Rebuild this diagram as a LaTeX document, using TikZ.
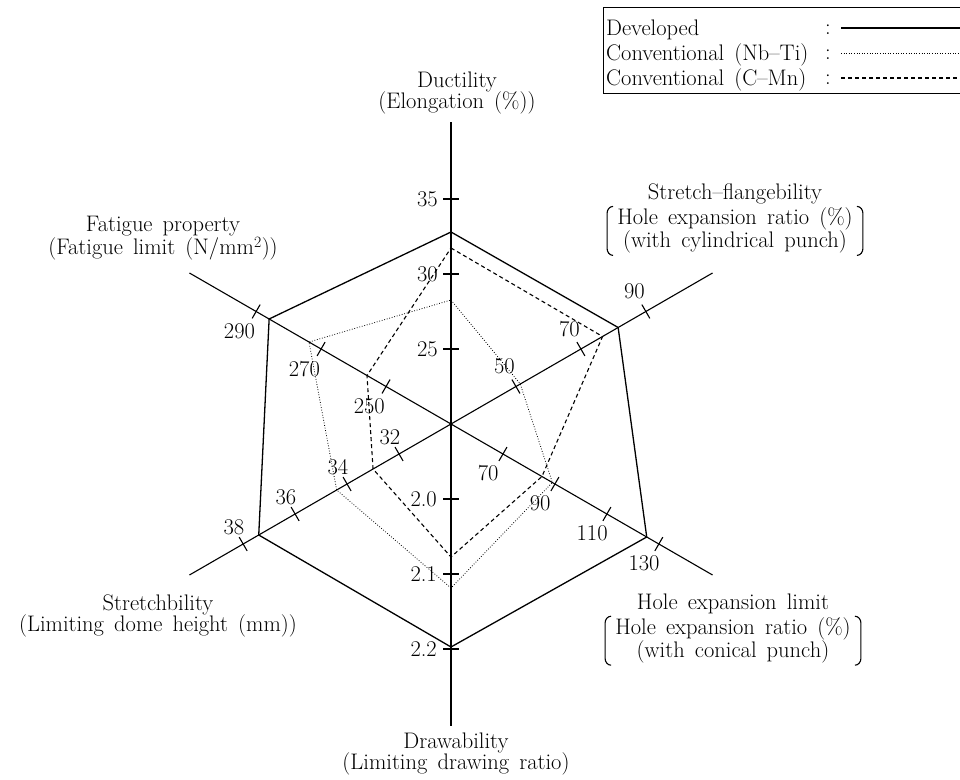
\documentclass[tikz,border=0pt]{standalone}
\usetikzlibrary{positioning}
\newcommand\chartfont{\fontsize{22.5}{21.5}\selectfont\spaceskip=0.45em plus 0.1em minus 0.05em\relax}
\begin{document}
\begin{tikzpicture}[x=1pt,y=1pt,
  font=\chartfont,
  axis/.style={line width=1.1pt},
  tickmark/.style={line width=1.1pt},
  ticklabel/.style={inner sep=0pt},
  title/.style={inner sep=0pt, align=center},
  subtitle/.style={inner ysep=1pt, inner xsep=12pt},
  bracket/.style={line width=1.1pt},
  developed/.style={line width=1.3pt},
  nbti/.style={line width=0.8pt, dash pattern=on 0.8pt off 1.8pt},
  cmn/.style={line width=1.1pt, dash pattern=on 4pt off 3pt}]

\useasboundingbox (-451,-355) rectangle (509,424);

% axes
\coordinate (o) at (0,0);
\foreach \a/\n in {90/duc,30/sfl,-30/hel,-90/drw,210/str,150/fat}
  \draw[axis] (o) -- (\a:302) coordinate (\n end);

% ticks and their values
\foreach \r/\v [count=\i] in {75/25,150/30,225/35} {
  \draw[tickmark] (90:\r) ++(-8,0) -- ++(16,0);
  \node[ticklabel, anchor=east] (duc\i) at ([xshift=-13pt]90:\r) {\v};
}
\foreach \r/\v [count=\i] in {75/2.0,150/2.1,225/2.2} {
  \draw[tickmark] (-90:\r) ++(-8,0) -- ++(16,0);
  \node[ticklabel, anchor=east] (drw\i) at ([xshift=-14pt]-90:\r) {\v};
}
\foreach \r/\v [count=\i] in {75/50,150/70,225/90} {
  \draw[tickmark] (30:\r) ++(120:8) -- ++(-60:16);
  \path (30:\r) ++(120:23) node[ticklabel] (sfl\i) {\v};
}
\foreach \r/\v [count=\i] in {60/70,120/90,180/110,240/130} {
  \draw[tickmark] (-30:\r) ++(60:8) -- ++(240:16);
  \path (-30:\r) ++(232:24) node[ticklabel] (hel\i) {\v};
}
\foreach \r/\v [count=\i] in {60/32,120/34,180/36,240/38} {
  \draw[tickmark] (210:\r) ++(120:8) -- ++(300:16);
  \path (210:\r) ++(119:19) node[ticklabel] (str\i) {\v};
}
\foreach \r/\v [count=\i] in {75/250,150/270,225/290} {
  \draw[tickmark] (150:\r) ++(60:8) -- ++(240:16);
  \path (150:\r) ++(230:26) node[ticklabel] (fat\i) {\v};
}

% the three steels
\draw[developed] (90:192) -- (30:193) -- (-30:226) -- (-90:223) -- (210:222) -- (150:210) -- cycle;
\draw[cmn] (90:176) -- (30:175) -- (-30:105) -- (-90:133) -- (210:90) -- (150:97) -- cycle;
\draw[nbti] (90:124) -- (30:80) -- (-30:117) -- (-90:164) -- (210:132) -- (150:164) -- cycle;

% axis titles
\node[title] (ducT) at (6,331) {Ductility\\(Elongation (\%))};
\node[title] (fatT) at (-288,186) {Fatigue property\\(Fatigue limit (N/mm\textsuperscript{2}))};
\node[title] (sflT) at (284,230) {Stretch--flangebility};
\node[subtitle, below=2pt of sflT] (sflS) {\begin{tabular}{@{}c@{}}Hole expansion ratio (\%)\\(with cylindrical punch)\end{tabular}};
\node[title] (helT) at (282,-180) {Hole expansion limit};
\node[subtitle, below=2pt of helT] (helS) {\begin{tabular}{@{}c@{}}Hole expansion ratio (\%)\\(with conical punch)\end{tabular}};
\node[title] (strT) at (-293,-192) {Stretchbility\\(Limiting dome height (mm))};
\node[title] (drwT) at (5,-330) {Drawability\\(Limiting drawing ratio)};

% brackets round the two-line subtitles
\foreach \s in {sflS,helS} {
  \draw[bracket] ([xshift=8pt]\s.north west) to[out=180,in=90] ([xshift=2pt,yshift=-7pt]\s.north west)
    -- ([xshift=2pt,yshift=7pt]\s.south west) to[out=-90,in=180] ([xshift=8pt]\s.south west);
  \draw[bracket] ([xshift=-8pt]\s.north east) to[out=0,in=90] ([xshift=-2pt,yshift=-7pt]\s.north east)
    -- ([xshift=-2pt,yshift=7pt]\s.south east) to[out=-90,in=0] ([xshift=-8pt]\s.south east);
}

% legend
\draw[line width=0.8pt] (152,417) rectangle (520,331);
\node[anchor=west, inner sep=0pt] (lgDev) at (155,394) {Developed};
\node[anchor=west, inner sep=0pt] (lgNb) at (155,369) {Conventional (Nb--Ti)};
\node[anchor=west, inner sep=0pt] (lgCM) at (155,344) {Conventional (C--Mn)};
\node[inner sep=0pt] (cDev) at (377,394) {:};
\node[inner sep=0pt] (cNb) at (377,369) {:};
\node[inner sep=0pt] (cCM) at (377,344) {:};
\coordinate (eDev) at (515,396);
\coordinate (eNb) at (515,371);
\coordinate (eCM) at (515,346);
\draw[developed] ([xshift=10pt]cDev.east |- eDev) -- (eDev);
\draw[nbti] ([xshift=10pt]cNb.east |- eNb) -- (eNb);
\draw[cmn] ([xshift=10pt]cCM.east |- eCM) -- (eCM);
\end{tikzpicture}
\end{document}
